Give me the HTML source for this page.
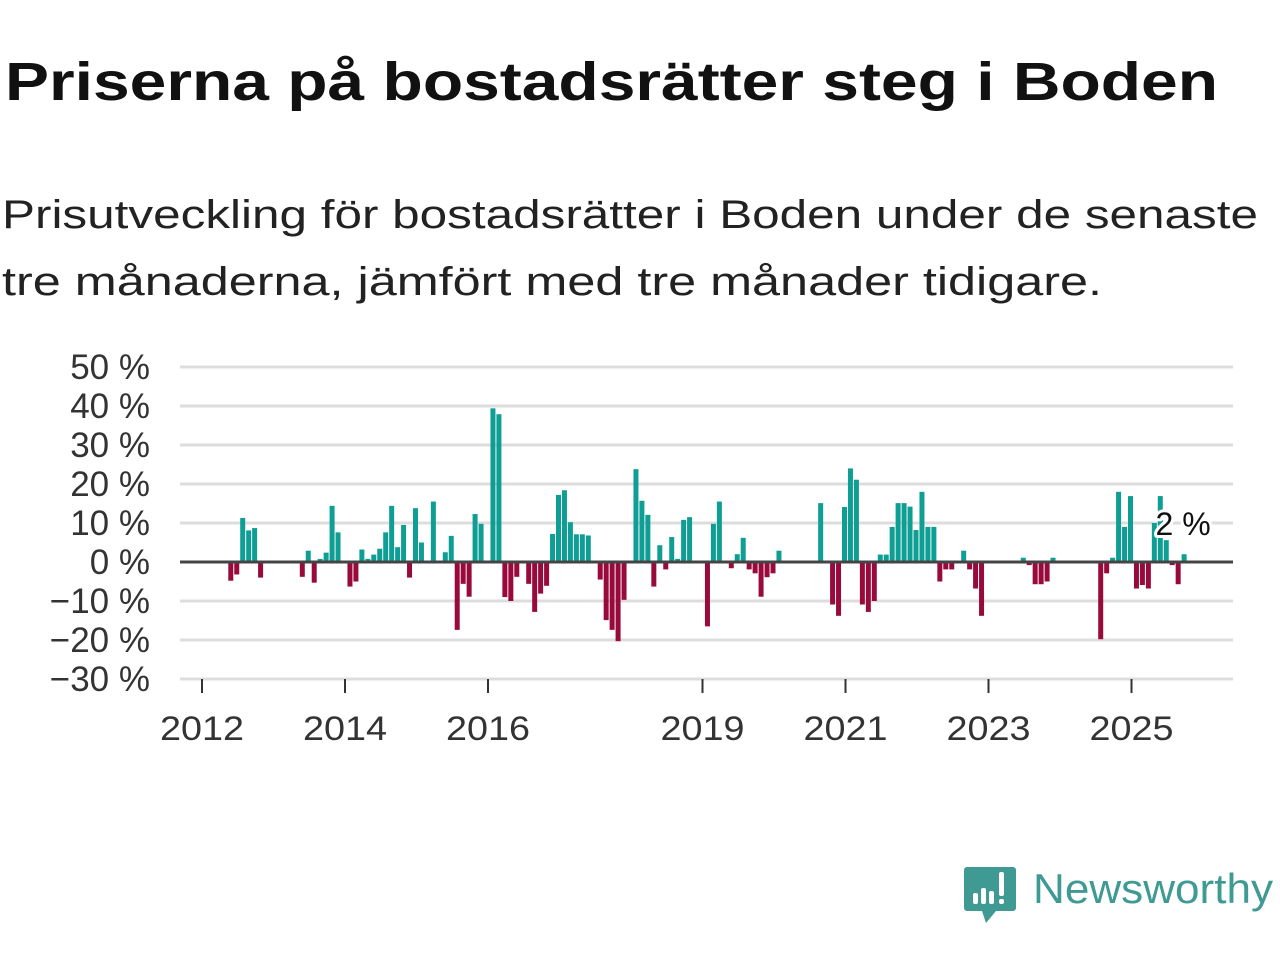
<!DOCTYPE html>
<html><head><meta charset="utf-8"><style>
html,body{margin:0;padding:0;background:#fff;}
svg{display:block;font-family:"Liberation Sans","DejaVu Sans",sans-serif;}
</style></head><body>
<svg id="chart" width="1280" height="960" viewBox="0 0 1280 960">
<text x="5" y="100" font-size="54" font-weight="bold" fill="#111" textLength="1213" lengthAdjust="spacingAndGlyphs">Priserna på bostadsrätter steg i Boden</text>
<text x="2" y="228" font-size="40" fill="#222" textLength="1256" lengthAdjust="spacingAndGlyphs">Prisutveckling för bostadsrätter i Boden under de senaste</text>
<text x="2" y="295" font-size="40" fill="#222" textLength="1100" lengthAdjust="spacingAndGlyphs">tre månaderna, jämfört med tre månader tidigare.</text>
<g id="grid"></g>
<g id="yticks"></g>
<g id="bars"></g>
<g id="xticks"></g>
<g>
<path d="M967 867 h46 a3 3 0 0 1 3 3 v38 a3 3 0 0 1 -3 3 h-17 l-10 12 l-4 -12 h-15 a3 3 0 0 1 -3 -3 v-38 a3 3 0 0 1 3 -3z" fill="#3e9a93"/>
<rect x="973" y="893" width="5" height="11" rx="2" fill="#fff"/>
<rect x="981" y="888" width="5" height="16" rx="2" fill="#fff"/>
<rect x="989" y="891" width="5" height="13" rx="2" fill="#fff"/>
<rect x="999" y="872" width="5" height="24" rx="2" fill="#fff"/>
<rect x="999" y="899" width="5" height="5" rx="2" fill="#fff"/>
<text x="1033" y="903" font-size="42" fill="#3e9a93" textLength="240" lengthAdjust="spacingAndGlyphs">Newsworthy</text>
</g>
</svg>
<script>
const yTicks = [50,40,30,20,10,0,-10,-20,-30];
const yearLabels = ["2012","2014","2016","2019","2021","2023","2025"];
const yearValues = [2012,2014,2016,2019,2021,2023,2025];
const startYear = 2012;
const monthIdx = [5,6,7,8,9,10,17,18,19,20,21,22,23,25,26,27,28,29,30,31,32,33,34,35,36,37,39,41,42,43,44,45,46,47,49,50,51,52,53,55,56,57,58,59,60,61,62,63,64,65,67,68,69,70,71,73,74,75,76,77,78,79,80,81,82,85,86,87,89,90,91,92,93,94,95,96,97,104,106,107,108,109,110,111,112,113,114,115,116,117,118,119,120,121,122,123,124,125,126,128,129,130,131,138,139,140,141,142,143,151,152,153,154,155,156,157,158,159,160,161,162,163,164,165];
const values = [-4.8,-3.2,11.3,8.1,8.7,-4,-3.8,2.9,-5.3,0.8,2.4,14.4,7.6,-6.3,-5,3.2,0.8,1.9,3.4,7.6,14.4,3.8,9.5,-4,13.8,5,15.5,2.5,6.7,-17.4,-5.6,-8.9,12.3,9.8,39.4,37.9,-9,-10,-3.8,-5.6,-12.8,-8.1,-6.1,7.2,17.2,18.4,10.2,7.1,7.1,6.8,-4.5,-14.9,-17.4,-20.3,-9.7,23.8,15.7,12.1,-6.3,4.3,-1.9,6.4,0.8,10.8,11.5,-16.5,9.8,15.5,-1.6,2,6.2,-1.9,-2.9,-8.9,-3.9,-2.9,2.9,15.1,-10.9,-13.8,14.1,24,21.1,-10.9,-12.8,-10,1.9,1.9,9,15.1,15.1,14.2,8.2,18,9,9,-5,-1.9,-1.9,2.9,-1.9,-6.8,-13.8,1.1,-0.8,-5.7,-5.7,-5,1.1,-19.8,-2.9,1.1,18,9,16.9,-6.8,-5.9,-6.8,10,16.9,5.6,-0.8,-5.7,2];
const lastLabel = "2 %";
const NS="http://www.w3.org/2000/svg";
const X0=180,X1=1233,Y0=562,PX=3.9;
function yS(v){return Y0-v*PX;}
function xS(m){return 202+m*(71.5/12);}
function mk(t,a,p){const e=document.createElementNS(NS,t);for(const k in a)e.setAttribute(k,a[k]);p.appendChild(e);return e;}
const grid=document.getElementById('grid'),yt=document.getElementById('yticks'),bars=document.getElementById('bars'),xt=document.getElementById('xticks');
yTicks.forEach(v=>{
  if(v!==0){const l=mk('line',{x1:X0,x2:X1,y1:yS(v),y2:yS(v),stroke:'#dddddd','stroke-width':3},grid);
  
  }
  const t=mk('text',{x:150,y:yS(v)+12,'font-size':35,fill:'#333','text-anchor':'end'},yt);
  t.textContent=(v<0?'\u2212'+(-v):v)+' %';
  
  
});
monthIdx.forEach((m,i)=>{
  const v=values[i];const cx=xS(m)-1;
  const r=mk('rect',{x:cx-2.5,width:5,y:v>=0?yS(v):Y0,height:Math.abs(v)*PX,fill:v>=0?'#0f9e94':'#990a3c'},bars);
  
  
});
const zl=mk('line',{x1:X0,x2:X1,y1:Y0,y2:Y0,stroke:'#444','stroke-width':3},bars);


const lm=monthIdx[monthIdx.length-1];
const lt=mk('text',{x:xS(lm)-2,y:535,'font-size':32,fill:'#111','text-anchor':'middle',stroke:'#fff','stroke-width':6,'paint-order':'stroke','stroke-linejoin':'round'},bars);
lt.textContent=lastLabel;


const bl=mk('line',{x1:X0,x2:X1,y1:679,y2:679,stroke:'#dddddd','stroke-width':2},xt);


yearValues.forEach((y,i)=>{
  const x=xS((y-startYear)*12);
  const tk=mk('line',{x1:x,x2:x,y1:679,y2:693,stroke:'#333','stroke-width':2},xt);
  
  
  const t=mk('text',{x:x-42,y:740,'font-size':34,fill:'#333',textLength:84,lengthAdjust:'spacingAndGlyphs'},xt);
  t.textContent=yearLabels[i];
  
  
});
</script>
</body></html>
